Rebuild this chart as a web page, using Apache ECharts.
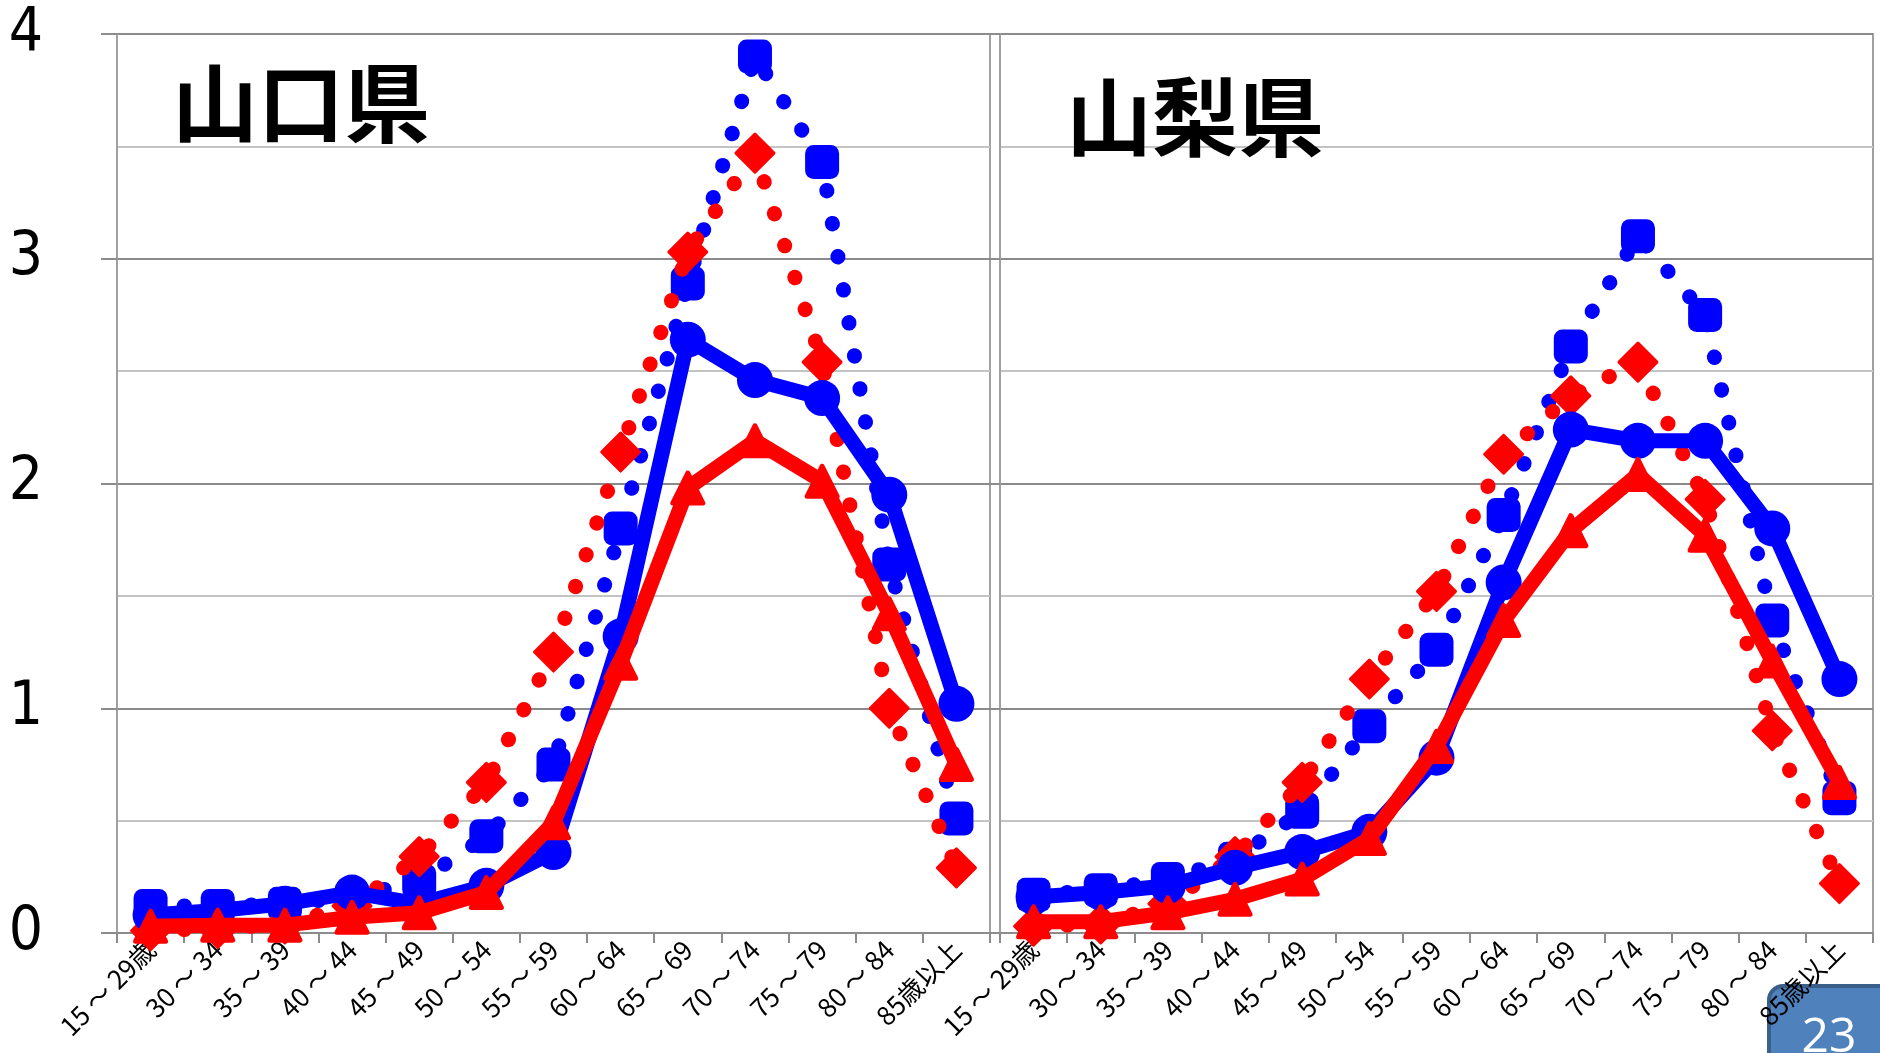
<!DOCTYPE html>
<html>
<head>
<meta charset="utf-8">
<script src="https://cdn.jsdelivr.net/npm/echarts@6/dist/echarts.min.js"></script>
<style>
html,body{margin:0;padding:0;background:#fff;}
#c{width:1880px;height:1053px;}
</style>
</head>
<body>
<div id="c"></div>
<script>
const categories = ['15 ～ 29歳','30 ～ 34','35 ～ 39','40 ～ 44','45 ～ 49','50 ～ 54','55 ～ 59','60 ～ 64','65 ～ 69','70 ～ 74','75 ～ 79','80 ～ 84','85歳以上'];
const yTicks = [0, 1, 2, 3, 4];
const panelTitles = ['山口県', '山梨県'];
const pageNumber = '23';

// 山口県
const yamaguchiBlueDotted = [0.12, 0.12, 0.13, 0.16, 0.23, 0.43, 0.75, 1.80, 2.89, 3.90, 3.43, 1.64, 0.51];
const yamaguchiRedDotted  = [0.01, 0.02, 0.04, 0.12, 0.34, 0.67, 1.25, 2.14, 3.03, 3.47, 2.54, 1.00, 0.29];
const yamaguchiBlueSolid  = [0.08, 0.10, 0.13, 0.18, 0.13, 0.21, 0.36, 1.32, 2.64, 2.46, 2.38, 1.95, 1.02];
const yamaguchiRedSolid   = [0.03, 0.035, 0.035, 0.07, 0.09, 0.18, 0.49, 1.20, 1.98, 2.19, 2.01, 1.42, 0.75];

// 山梨県
const yamanashiBlueDotted = [0.17, 0.19, 0.24, 0.33, 0.54, 0.92, 1.26, 1.86, 2.61, 3.10, 2.75, 1.39, 0.60];
const yamanashiRedDotted  = [0.03, 0.04, 0.13, 0.34, 0.67, 1.13, 1.52, 2.13, 2.39, 2.54, 1.93, 0.90, 0.22];
const yamanashiBlueSolid  = [0.16, 0.18, 0.21, 0.29, 0.36, 0.45, 0.78, 1.56, 2.24, 2.19, 2.19, 1.80, 1.13];
const yamanashiRedSolid   = [0.05, 0.05, 0.09, 0.15, 0.24, 0.42, 0.83, 1.39, 1.79, 2.04, 1.77, 1.21, 0.67];

const BLUE = '#0000FF';
const RED = '#FF0000';
const numFont = "'Liberation Sans Narrow','DejaVu Sans Condensed','Liberation Sans',sans-serif";
const jpFont = "'Noto Sans CJK JP','Noto Sans CJK SC',sans-serif";

function makeSeries(gi, bd, rd, bs, rs) {
  const dot = [0.5, 33];
  return [
    {type:'line', xAxisIndex:gi, yAxisIndex:gi, data:bd, symbol:'roundRect', symbolSize:34,
     lineStyle:{color:BLUE, width:15, type:dot, cap:'round'}, itemStyle:{color:BLUE}, z:2},
    {type:'line', xAxisIndex:gi, yAxisIndex:gi, data:rd, symbol:'diamond', symbolSize:[38,38],
     lineStyle:{color:RED, width:15, type:dot, cap:'round'}, itemStyle:{color:RED, borderColor:RED, borderWidth:3, borderJoin:'round'}, z:3},
    {type:'line', xAxisIndex:gi, yAxisIndex:gi, data:bs, symbol:'circle', symbolSize:36,
     lineStyle:{color:BLUE, width:15, join:'round'}, itemStyle:{color:BLUE}, z:4},
    {type:'line', xAxisIndex:gi, yAxisIndex:gi, data:rs, symbol:'triangle', symbolSize:30,
     lineStyle:{color:RED, width:15, join:'round'}, itemStyle:{color:RED, borderColor:RED, borderWidth:5, borderJoin:'round'}, z:5}
  ];
}

function xAxis(gi) {
  return {
    type:'category', gridIndex:gi, data:categories, boundaryGap:true,
    axisLine:{show:true, lineStyle:{color:'#8c8c8c', width:2}},
    axisTick:{show:true, length:10, lineStyle:{color:'#8c8c8c', width:2}},
    axisLabel:{interval:0, rotate:45, fontSize:26, color:'#000', margin:12, fontFamily:jpFont},
    splitLine:{show:false}
  };
}
function yAxis(gi, showLabels) {
  return {
    type:'value', gridIndex:gi, min:yTicks[0], max:yTicks[yTicks.length-1], interval:1,
    axisLine:{show:true, lineStyle:{color:'#a0a0a0', width:2}},
    axisTick:{show:true, length:16, lineStyle:{color:'#8c8c8c', width:2}},
    axisLabel:{show:showLabels, fontSize:60, color:'#000', margin:74, fontFamily:numFont},
    splitLine:{show:true, lineStyle:{color:'#8a8a8a', width:2}},
    minorTick:{show:false, splitNumber:2},
    minorSplitLine:{show:true, lineStyle:{color:'#c4c4c4', width:2}}
  };
}

const chart = echarts.init(document.getElementById('c'), null, {renderer:'canvas'});
chart.setOption({
  animation:false,
  backgroundColor:'#fff',
  title:[
    {text:panelTitles[0], left:172, top:60, padding:0, textStyle:{fontSize:86, fontWeight:'bold', color:'#000', fontFamily:jpFont}},
    {text:panelTitles[1], left:1066, top:74, padding:0, textStyle:{fontSize:86, fontWeight:'bold', color:'#000', fontFamily:jpFont}}
  ],
  grid:[
    {left:117, top:34, width:873, height:899, show:true, borderColor:'#a0a0a0', borderWidth:2, containLabel:false},
    {left:1000, top:34, width:873, height:899, show:true, borderColor:'#a0a0a0', borderWidth:2, containLabel:false}
  ],
  xAxis:[xAxis(0), xAxis(1)],
  yAxis:[yAxis(0, true), yAxis(1, false)],
  series:[].concat(
    makeSeries(0, yamaguchiBlueDotted, yamaguchiRedDotted, yamaguchiBlueSolid, yamaguchiRedSolid),
    makeSeries(1, yamanashiBlueDotted, yamanashiRedDotted, yamanashiBlueSolid, yamanashiRedSolid)
  ),
  graphic:[
    {type:'group', z:100, children:[
      {type:'rect', shape:{x:1769, y:986, width:130, height:100, r:14},
       style:{fill:'#4F81BD', stroke:'#3A5F8B', lineWidth:4}},
      {type:'text', x:1829, y:1014, style:{text:pageNumber, fill:'#fff', fontSize:48, fontFamily:"'Open Sans','Liberation Sans',sans-serif", align:'center', verticalAlign:'top'}}
    ]}
  ]
});
</script>
</body>
</html>
